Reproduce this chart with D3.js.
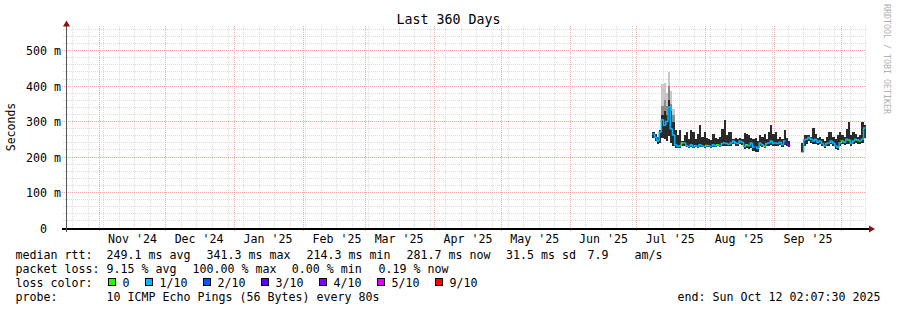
<!DOCTYPE html>
<html><head><meta charset="utf-8">
<script src="https://cdn.jsdelivr.net/npm/d3@7"></script>
<style>
body{margin:0;background:#fff;}
svg text{font-family:"DejaVu Sans Mono",monospace;fill:#000;}
</style></head><body>
<svg id="c" width="897" height="310" xmlns="http://www.w3.org/2000/svg"></svg>
<script>
// ---------- data ----------
const title = "Last 360 Days";
const yAxisLabel = "Seconds";
const credit = "RRDTOOL / TOBI OETIKER";
const endTime = "2025-10-12T02:07:30Z";
const spanDays = 360;
const yMax = 564;
const yTicks = [0, 100, 200, 300, 400, 500];
const dataOrigin = "2025-07-01T00:00:00Z";   // day offsets count from here
const days = [7,8,9,10,11,12,13,14,15,16,17,18,19,20,21,22,23,24,25,26,27,28,29,30,31,32,33,34,35,36,37,38,39,40,41,42,43,44,45,46,47,48,49,50,51,52,53,54,55,56,57,58,59,60,61,62,63,64,65,66,67,68,69,70,71,72,73,74,75,76,77,78,79,80,81,82,83,84,85,86,87,88,89,90,91,92,93,94,95,96,97,98,99,100,101,102];
const median = [265,255,245,270,305,290,300,341,280,262,235,230,232,240,240,232,230,235,230,232,230,235,232,230,233,232,230,235,232,235,232,238,240,238,236,240,245,240,238,245,242,230,235,232,240,228,230,225,240,235,230,238,240,245,238,240,238,242,235,245,238,232,null,null,null,null,null,215,248,250,255,250,245,250,242,245,238,232,238,240,245,240,232,228,240,245,242,250,248,238,245,250,248,245,250,282];
const smokeLo = [255,245,238,240,255,250,245,260,240,232,225,226,226,232,230,228,226,228,226,228,226,228,228,226,228,228,226,228,228,230,228,230,232,230,230,232,236,232,232,236,235,222,225,222,225,218,214,214,230,228,225,230,232,235,230,232,230,234,228,235,230,228,null,null,null,null,null,214,232,238,245,240,236,238,235,236,230,226,230,232,236,232,222,220,230,236,234,238,236,230,236,240,238,236,240,255];
const smokeHi = [270,265,258,276,320,330,320,360,330,300,275,262,275,245,262,270,250,276,272,250,265,290,258,270,255,252,248,265,255,250,258,280,305,262,270,272,252,255,250,255,250,268,265,262,255,250,255,245,262,258,265,250,270,290,265,270,252,258,250,276,255,245,null,null,null,null,null,240,262,262,262,258,283,265,255,258,250,245,258,272,270,258,250,262,270,262,258,278,300,262,270,265,258,262,300,290];
const smokeMid = [null,null,null,null,345,360,345,400,350,320,null,null,null,null,null,null,null,null,null,null,null,null,null,null,null,null,null,null,null,null,null,null,null,null,null,null,null,null,null,null,null,null,null,null,null,null,null,null,null,null,null,null,null,null,null,null,null,null,null,null,null,null,null,null,null,null,null,null,null,null,null,null,null,null,null,null,null,null,null,null,null,null,null,null,null,null,null,null,null,null,null,null,null,null,null,null];
const smokeOuter = [null,null,null,null,405,408,380,441,385,335,null,null,null,null,null,null,null,null,null,null,null,null,null,null,null,null,null,null,null,null,null,null,null,null,null,null,null,null,null,null,null,null,null,null,null,null,null,null,null,null,null,null,null,null,null,null,null,null,null,null,null,null,null,null,null,null,null,null,null,null,null,null,null,null,null,null,null,null,null,null,null,null,null,null,null,null,null,null,null,null,null,null,null,null,null,null];
const lossTenths = [1,1,1,1,1,1,1,1,1,1,1,1,1,0,1,1,1,1,1,1,1,1,1,1,0,1,1,1,1,0,1,1,1,1,1,1,1,1,1,1,1,1,0,1,1,1,2,1,1,1,0,1,1,1,1,1,1,1,1,1,3,4,null,null,null,null,null,9,1,1,1,1,1,1,1,1,1,1,1,1,1,1,1,1,1,0,1,1,0,1,1,1,0,1,1,1];
const lossLevels = [0, 1, 2, 3, 4, 5, 9];
const lossLabels = ["0", "1/10", "2/10", "3/10", "4/10", "5/10", "9/10"];
const lossColors = ["#26ff00", "#00b8ff", "#0059ff", "#5e00ff", "#7e00ff", "#dd00ff", "#ff0000"];
const legendRtt = [["median rtt:", 15.5], ["249.1 ms avg", 106.5], ["341.3 ms max", 206.5], ["214.3 ms min", 306.5], ["281.7 ms now", 406.5], ["31.5 ms sd", 506], ["7.9", 587.5], ["am/s", 634.5]];
const legendLoss = [["packet loss:", 15.5], ["9.15 % avg", 106.5], ["100.00 % max", 192.5], ["0.00 % min", 291.7], ["0.19 % now", 378.5]];
const probeLabel = "probe:";
const probeText = "10 ICMP Echo Pings (56 Bytes) every 80s";
const endLabel = "end: Sun Oct 12 02:07:30 2025";

// ---------- chart ----------
const svg = d3.select("#c");
svg.append("rect").attr("width", 897).attr("height", 310).attr("fill", "#fff");
const FS = "11.63px";
const end = new Date(endTime);
const start = new Date(+end - spanDays * 864e5);
const origin = new Date(dataOrigin);
const x = d3.scaleUtc().domain([start, end]).range([66, 866]);
const y = d3.scaleLinear().domain([0, yMax]).range([228, 28]);
const px = v => Math.floor(v) + 0.5;
const dayDate = d => d3.utcDay.offset(origin, d);

// title
svg.append("text").attr("x", 448.5).attr("y", 24).attr("text-anchor", "middle")
  .style("font-size", "13.3px").text(title);

// grid
const grid = svg.append("g");
const minorY = d3.range(20, yMax, 20).filter(v => v % 100 !== 0);
grid.selectAll(".gy").data(minorY).join("line")
  .attr("x1", 63).attr("x2", 866).attr("y1", d => px(y(d))).attr("y2", d => px(y(d)))
  .attr("stroke", "#dcdcdc").attr("stroke-dasharray", "1,1");
const weeks = d3.utcSunday.range(start, end);
grid.selectAll(".gx").data(weeks).join("line")
  .attr("y1", 26).attr("y2", 230).attr("x1", d => px(x(d))).attr("x2", d => px(x(d)))
  .attr("stroke", "#dcdcdc").attr("stroke-dasharray", "1,1");
grid.selectAll(".my").data(yTicks.filter(v => v > 0)).join("line")
  .attr("x1", 62).attr("x2", 866).attr("y1", d => px(y(d))).attr("y2", d => px(y(d)))
  .attr("stroke", "#f0a8a8").attr("stroke-dasharray", "1,1");
const months = d3.utcMonth.range(start, end);
grid.selectAll(".mx").data(months).join("line")
  .attr("y1", 26).attr("y2", 231).attr("x1", d => px(x(d))).attr("x2", d => px(x(d)))
  .attr("stroke", "#f0a8a8").attr("stroke-dasharray", "1,1");

// data
const rows = days.map((d, i) => ({
  d, med: median[i], lo: smokeLo[i], hi: smokeHi[i], mid: smokeMid[i], outer: smokeOuter[i], loss: lossTenths[i]
}));
const defined = rows.filter(r => r.med != null);
svg.append("clipPath").attr("id", "clip").append("rect").attr("x", 66).attr("y", 28).attr("width", 800).attr("height", 200);
const plot = svg.append("g").attr("clip-path", "url(#clip)");
const bx = r => x(dayDate(r.d));
const bw = r => x(dayDate(r.d + 1)) - x(dayDate(r.d));
plot.selectAll(".outer").data(defined.filter(r => r.outer != null)).join("rect")
  .attr("x", bx).attr("width", bw).attr("y", r => y(r.outer)).attr("height", r => y(r.lo) - y(r.outer))
  .attr("fill", "#c8c8c8").attr("shape-rendering", "crispEdges");
plot.selectAll(".mid").data(defined.filter(r => r.mid != null)).join("rect")
  .attr("x", bx).attr("width", bw).attr("y", r => y(r.mid)).attr("height", r => y(r.lo) - y(r.mid))
  .attr("fill", "#8a8a8a").attr("shape-rendering", "crispEdges");
plot.selectAll(".dark").data(defined).join("rect")
  .attr("x", bx).attr("width", bw).attr("y", r => y(r.hi)).attr("height", r => y(r.lo) - y(r.hi))
  .attr("fill", "#2a2a2a").attr("shape-rendering", "crispEdges");
const colorOf = l => lossColors[Math.max(0, lossLevels.filter(v => v <= l).length - 1)];
plot.selectAll(".med").data(rows.filter(r => r.med != null)).join("path")
  .attr("d", r => {
    const i = rows.indexOf(r);
    const prev = i > 0 && rows[i - 1].med != null ? rows[i - 1].med : r.med;
    return `M${bx(r)},${y(prev)}V${y(r.med)}H${bx(r) + bw(r)}`;
  })
  .attr("fill", "none").attr("stroke", r => colorOf(r.loss)).attr("stroke-width", 1.5);

// y labels
svg.selectAll(".yl").data(yTicks).join("text")
  .attr("x", 61).attr("y", d => px(y(d)) + 4).attr("text-anchor", "end")
  .attr("xml:space", "preserve").style("white-space", "pre").style("font-size", FS)
  .text(d => d === 0 ? "0  " : `${d} m`);

// x labels (mid-month)
const labelMonths = d3.utcMonth.range(d3.utcMonth.offset(start, -1), end)
  .map(m => d3.utcDay.offset(m, 15)).filter(t => t >= start && t <= end);
svg.selectAll(".xl").data(labelMonths).join("text")
  .attr("x", d => x(d)).attr("y", 243).attr("text-anchor", "middle").style("font-size", FS)
  .text(d => d3.utcFormat("%b '%y")(d));

// axes
svg.append("line").attr("x1", 62).attr("x2", 870).attr("y1", 229).attr("y2", 229)
  .attr("stroke", "#000").attr("stroke-width", 2);
svg.append("line").attr("x1", 66.5).attr("x2", 66.5).attr("y1", 232).attr("y2", 24)
  .attr("stroke", "#555").attr("stroke-width", 1);
svg.append("path").attr("d", "M63,26.5L66.5,20.5L70,26.5Z").attr("fill", "#8b1010");
svg.append("path").attr("d", "M869,225.5L875,229L869,232.5Z").attr("fill", "#8b1010");

// axis title
svg.append("text").attr("transform", "translate(15,127) rotate(-90)").attr("text-anchor", "middle")
  .style("font-size", "11.5px").text(yAxisLabel);
// credit
svg.append("text").attr("transform", "translate(884,4) rotate(90)").style("font-size", "8.3px")
  .style("fill", "#b0b0b0").text(credit);

// legend
const leg = svg.append("g").attr("xml:space", "preserve").style("font-size", FS);
legendRtt.forEach(([t, lx]) => leg.append("text").attr("x", lx).attr("y", 258.5).text(t));
legendLoss.forEach(([t, lx]) => leg.append("text").attr("x", lx).attr("y", 272.5).text(t));
leg.append("text").attr("x", 15.5).attr("y", 286.5).text("loss color:");
let lx = 108.5;
lossLabels.forEach((lab, i) => {
  leg.append("rect").attr("x", lx).attr("y", 278.5).attr("width", 7).attr("height", 7)
    .attr("fill", lossColors[i]).attr("stroke", "#000").attr("stroke-width", 1);
  const t = leg.append("text").attr("x", lx + 14).attr("y", 286.5).text(lab);
  lx = lx + 14 + t.node().getComputedTextLength() + 16;
});
leg.append("text").attr("x", 15.5).attr("y", 300.5).text(probeLabel);
leg.append("text").attr("x", 106.5).attr("y", 300.5).text(probeText);
leg.append("text").attr("x", 880.5).attr("y", 300.5).attr("text-anchor", "end").text(endLabel);
</script>
</body></html>
